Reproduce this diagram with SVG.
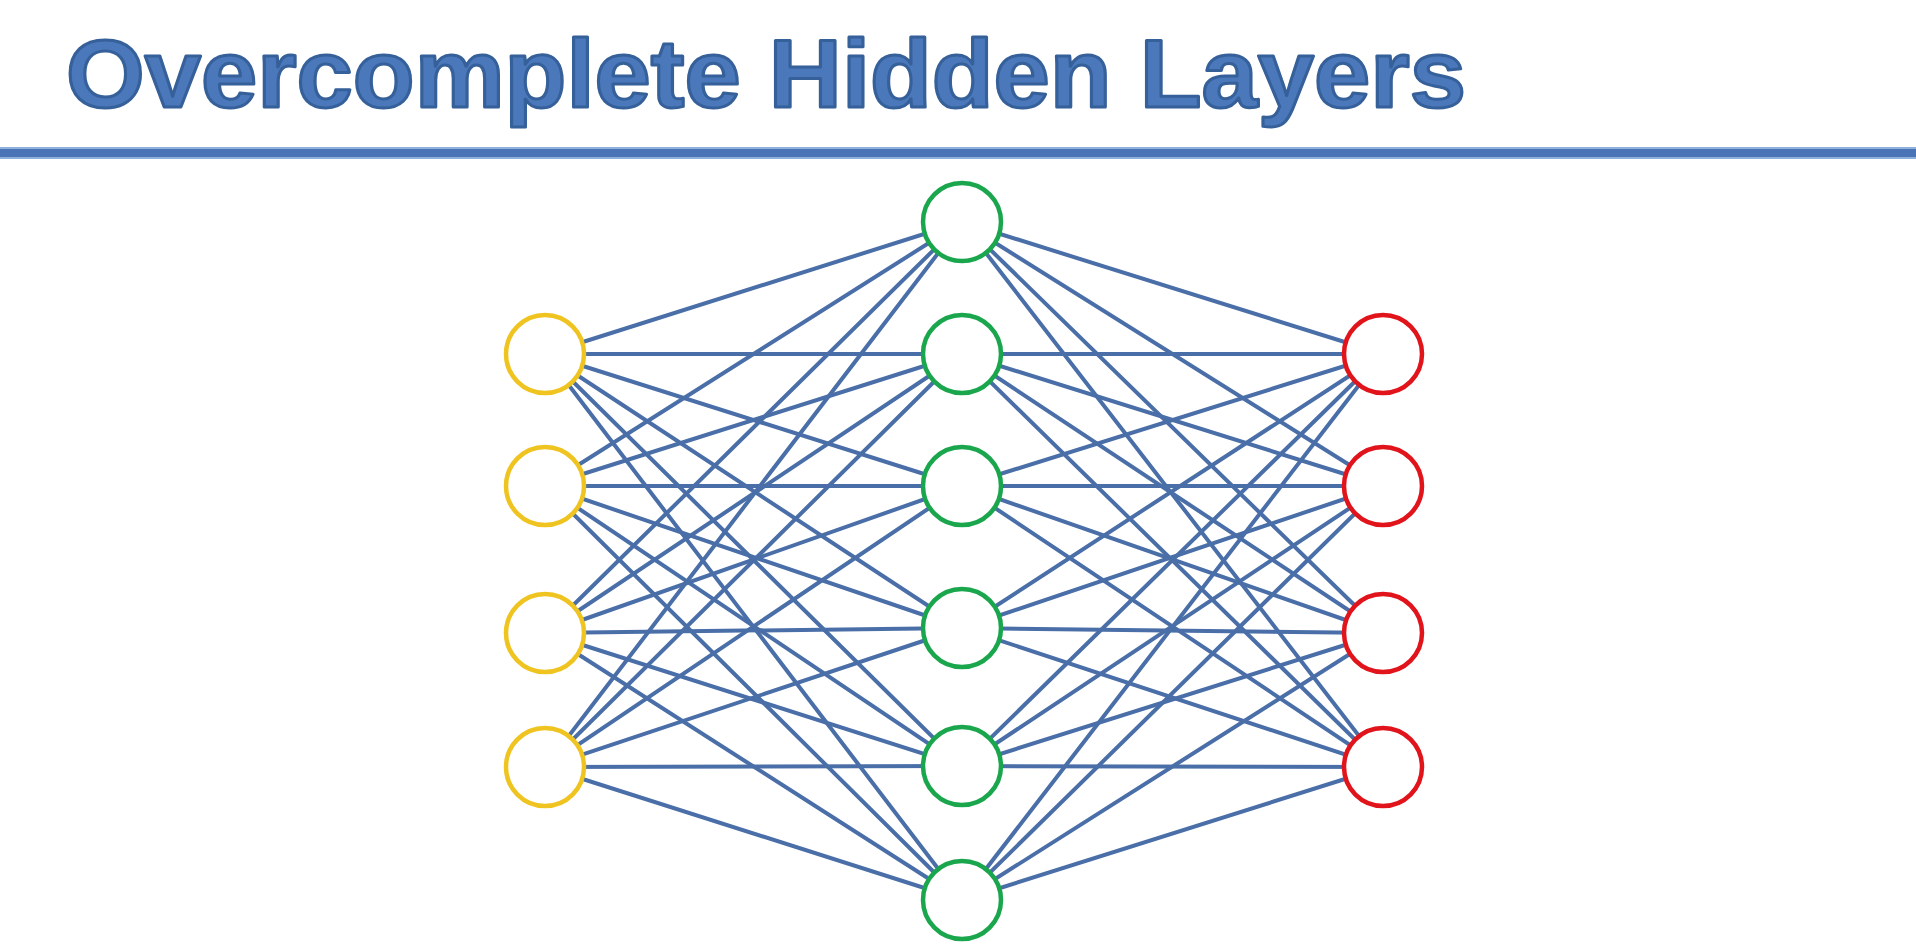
<svg xmlns="http://www.w3.org/2000/svg" width="1916" height="947" viewBox="0 0 1916 947">
<style>
.title{font-family:"Liberation Sans",Arial,sans-serif;font-weight:bold;font-size:96px;fill:#4a78bb;stroke:#36609a;stroke-width:3;stroke-linejoin:round}
.c line{stroke:#4a6fa8;stroke-width:4;stroke-linecap:round}
.n{fill:#ffffff;stroke-width:4.5}
.in{stroke:#f0c420}
.hid{stroke:#1aa64c}
.out{stroke:#e0141a}
</style>
<rect width="1916" height="947" fill="#ffffff"/>
<text class="title" x="66" y="107" textLength="1400" lengthAdjust="spacingAndGlyphs">Overcomplete Hidden Layers</text>
<rect x="0" y="147" width="1916" height="12" fill="#4a74b5"/>
<rect x="0" y="147" width="1916" height="2" fill="#8fb0dc"/>
<rect x="0" y="157" width="1916" height="2" fill="#8fb0dc"/>
<g class="c" id="connectors">
<line x1="545" y1="354" x2="962" y2="222"/><line x1="545" y1="354" x2="962" y2="354"/><line x1="545" y1="354" x2="962" y2="486"/><line x1="545" y1="354" x2="962" y2="628"/><line x1="545" y1="354" x2="962" y2="766"/><line x1="545" y1="354" x2="962" y2="900"/>
<line x1="545" y1="486" x2="962" y2="222"/><line x1="545" y1="486" x2="962" y2="354"/><line x1="545" y1="486" x2="962" y2="486"/><line x1="545" y1="486" x2="962" y2="628"/><line x1="545" y1="486" x2="962" y2="766"/><line x1="545" y1="486" x2="962" y2="900"/>
<line x1="545" y1="633" x2="962" y2="222"/><line x1="545" y1="633" x2="962" y2="354"/><line x1="545" y1="633" x2="962" y2="486"/><line x1="545" y1="633" x2="962" y2="628"/><line x1="545" y1="633" x2="962" y2="766"/><line x1="545" y1="633" x2="962" y2="900"/>
<line x1="545" y1="767" x2="962" y2="222"/><line x1="545" y1="767" x2="962" y2="354"/><line x1="545" y1="767" x2="962" y2="486"/><line x1="545" y1="767" x2="962" y2="628"/><line x1="545" y1="767" x2="962" y2="766"/><line x1="545" y1="767" x2="962" y2="900"/>
<line x1="1383" y1="354" x2="962" y2="222"/><line x1="1383" y1="354" x2="962" y2="354"/><line x1="1383" y1="354" x2="962" y2="486"/><line x1="1383" y1="354" x2="962" y2="628"/><line x1="1383" y1="354" x2="962" y2="766"/><line x1="1383" y1="354" x2="962" y2="900"/>
<line x1="1383" y1="486" x2="962" y2="222"/><line x1="1383" y1="486" x2="962" y2="354"/><line x1="1383" y1="486" x2="962" y2="486"/><line x1="1383" y1="486" x2="962" y2="628"/><line x1="1383" y1="486" x2="962" y2="766"/><line x1="1383" y1="486" x2="962" y2="900"/>
<line x1="1383" y1="633" x2="962" y2="222"/><line x1="1383" y1="633" x2="962" y2="354"/><line x1="1383" y1="633" x2="962" y2="486"/><line x1="1383" y1="633" x2="962" y2="628"/><line x1="1383" y1="633" x2="962" y2="766"/><line x1="1383" y1="633" x2="962" y2="900"/>
<line x1="1383" y1="767" x2="962" y2="222"/><line x1="1383" y1="767" x2="962" y2="354"/><line x1="1383" y1="767" x2="962" y2="486"/><line x1="1383" y1="767" x2="962" y2="628"/><line x1="1383" y1="767" x2="962" y2="766"/><line x1="1383" y1="767" x2="962" y2="900"/>
</g>
<g id="in1"><circle class="n in" cx="545" cy="354" r="39"/></g>
<g id="in2"><circle class="n in" cx="545" cy="486" r="39"/></g>
<g id="in3"><circle class="n in" cx="545" cy="633" r="39"/></g>
<g id="in4"><circle class="n in" cx="545" cy="767" r="39"/></g>
<g id="h1"><circle class="n hid" cx="962" cy="222" r="39"/></g>
<g id="h2"><circle class="n hid" cx="962" cy="354" r="39"/></g>
<g id="h3"><circle class="n hid" cx="962" cy="486" r="39"/></g>
<g id="h4"><circle class="n hid" cx="962" cy="628" r="39"/></g>
<g id="h5"><circle class="n hid" cx="962" cy="766" r="39"/></g>
<g id="h6"><circle class="n hid" cx="962" cy="900" r="39"/></g>
<g id="o1"><circle class="n out" cx="1383" cy="354" r="39"/></g>
<g id="o2"><circle class="n out" cx="1383" cy="486" r="39"/></g>
<g id="o3"><circle class="n out" cx="1383" cy="633" r="39"/></g>
<g id="o4"><circle class="n out" cx="1383" cy="767" r="39"/></g>
</svg>
